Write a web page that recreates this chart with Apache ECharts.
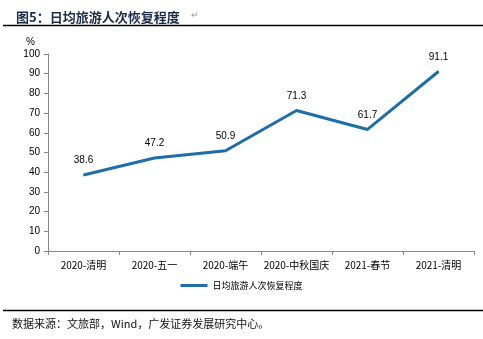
<!DOCTYPE html>
<html><head><meta charset="utf-8">
<script src="https://cdn.jsdelivr.net/npm/echarts@6/dist/echarts.min.js"></script>
<style>html,body{margin:0;padding:0;background:#fff}#c{width:483px;height:339px}</style>
</head><body><div id="c"></div>
<script>
const categories = ['2020-清明','2020-五一','2020-端午','2020-中秋国庆','2021-春节','2021-清明'];
const values = [38.6, 47.2, 50.9, 71.3, 61.7, 91.1];
const seriesName = '日均旅游人次恢复程度';
const yTicks = [0,10,20,30,40,50,60,70,80,90,100];

const chart = echarts.init(document.getElementById('c'));
const cjk = '"Noto Sans CJK SC", "Liberation Sans", Arial, sans-serif';
const lat = '"Liberation Sans", Arial, sans-serif';
chart.setOption({
  animation: false,
  backgroundColor: '#fff',
  title: {
    text: '图5：日均旅游人次恢复程度',
    left: 11, top: 6,
    textStyle: {fontFamily: cjk, fontSize: 13, fontWeight: 'bold', color: '#1c2b4a'}
  },
  graphic: [
    {type: 'line', shape: {x1: 3, y1: 25.5, x2: 483, y2: 25.5}, style: {stroke: '#000', lineWidth: 1.3}},
    {type: 'line', shape: {x1: 3, y1: 310.5, x2: 483, y2: 310.5}, style: {stroke: '#000', lineWidth: 1.3}},
    {type: 'text', left: 191, top: 11, style: {text: '↵', fontSize: 9, fill: '#999', fontFamily: lat}},
    {type: 'text', left: 26, top: 37, style: {text: '%', fontSize: 10, fill: '#000', fontFamily: lat}},
    {type: 'text', left: 12, top: 318, style: {text: '数据来源：文旅部，Wind，广发证券发展研究中心。', fontSize: 11, fill: '#111', fontFamily: cjk}}
  ],
  grid: {left: 48, right: 9, top: 54, bottom: 88},
  legend: {
    data: [seriesName], bottom: 44, left: 'center',
    icon: 'rect', itemWidth: 27, itemHeight: 3, itemGap: 4,
    textStyle: {fontFamily: cjk, fontSize: 9, color: '#000'}
  },
  xAxis: {
    type: 'category', data: categories, boundaryGap: true,
    axisLine: {lineStyle: {color: '#888'}},
    axisTick: {show: true, alignWithLabel: false, length: 4, lineStyle: {color: '#888'}},
    axisLabel: {fontFamily: cjk, fontSize: 10, color: '#000', margin: 9, interval: 0}
  },
  yAxis: {
    type: 'value', min: yTicks[0], max: yTicks[yTicks.length-1], interval: 10,
    axisLine: {show: true, lineStyle: {color: '#888'}},
    axisTick: {show: true, length: 4, lineStyle: {color: '#888'}},
    splitLine: {show: false},
    axisLabel: {fontFamily: lat, fontSize: 10, color: '#000', margin: 8}
  },
  series: [{
    name: seriesName, type: 'line', data: values,
    symbol: 'circle', symbolSize: 1, showSymbol: true,
    lineStyle: {width: 3, color: '#1f6ea8'}, itemStyle: {color: '#1f6ea8'},
    label: {show: true, position: 'top', distance: 9, fontFamily: lat, fontSize: 10, color: '#000',
      formatter: p => p.value.toFixed(1)}
  }]
});
</script></body></html>
